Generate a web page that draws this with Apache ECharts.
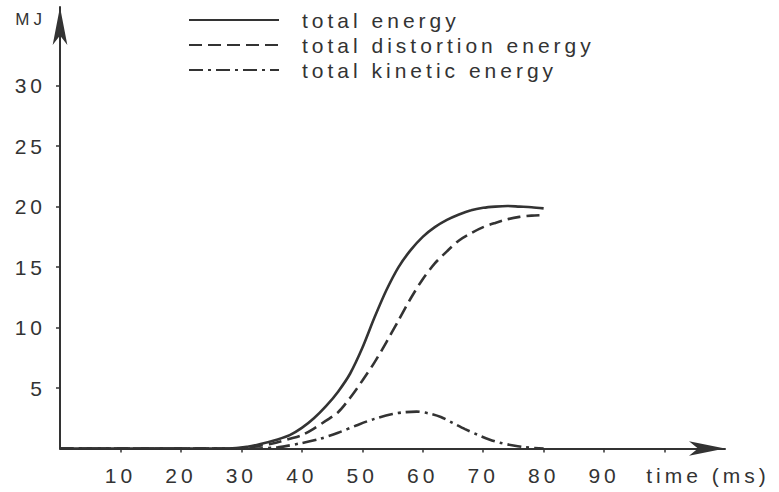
<!DOCTYPE html>
<html><head><meta charset="utf-8">
<script src="https://cdn.jsdelivr.net/npm/echarts@6/dist/echarts.min.js"></script>
<style>
html,body{margin:0;padding:0;background:#fff;}
#c{width:779px;height:492px;}
#c svg text{letter-spacing:4px;}
</style></head><body><div id="c"></div>
<script>
const seriesNames = ['total energy', 'total distortion energy', 'total kinetic energy'];
const xTickLabels = [10, 20, 30, 40, 50, 60, 70, 80, 90];
const xTickMarks = [10, 20, 30, 40, 50, 60, 70, 80, 90, 100];
const yTickLabels = [5, 10, 15, 20, 25, 30];

const totalT = [0, 28, 31, 33, 36, 38, 40, 42, 44, 46, 48, 50, 52, 54, 56, 58, 60, 62, 64, 66, 68, 70, 72, 74, 76, 78, 80];
const totalE = [0, 0, 0.15, 0.35, 0.75, 1.1, 1.7, 2.5, 3.5, 4.7, 6.2, 8.3, 10.8, 13.1, 15.0, 16.4, 17.5, 18.3, 18.9, 19.35, 19.7, 19.9, 20.0, 20.05, 20.0, 19.95, 19.85];

const distT = [0, 29, 32, 35, 38, 40, 42, 44, 46, 48, 50, 52, 54, 56, 58, 60, 62, 64, 66, 68, 70, 72, 74, 76, 78, 80];
const distE = [0, 0, 0.15, 0.4, 0.8, 1.1, 1.65, 2.3, 3.0, 4.2, 5.6, 7.1, 8.8, 10.6, 12.4, 14.0, 15.3, 16.3, 17.2, 17.8, 18.3, 18.65, 18.95, 19.15, 19.25, 19.3];

const kinT = [0, 32, 36, 40, 43, 46, 49, 52, 55, 57, 59, 61, 63, 65, 67, 69, 71, 73, 75, 77, 80];
const kinE = [0, 0, 0.1, 0.45, 0.8, 1.3, 1.9, 2.45, 2.85, 3.0, 3.05, 2.9, 2.6, 2.1, 1.6, 1.15, 0.75, 0.45, 0.25, 0.1, 0];

function pairs(t, e) { return t.map((v, i) => [v, e[i]]); }

const ink = '#333';
const font = 'Liberation Sans';

const chart = echarts.init(document.getElementById('c'), null, { renderer: 'svg' });
chart.setOption({
  animation: false,
  backgroundColor: '#fff',
  textStyle: { fontFamily: font, color: ink },
  grid: { left: 60, right: 54, top: 7, bottom: 43.5 },
  legend: {
    orient: 'vertical',
    left: 183,
    top: 4,
    itemWidth: 90,
    itemHeight: 14,
    itemGap: 3,
    itemStyle: { opacity: 0 },
    textStyle: { fontFamily: font, fontSize: 21, color: ink, lineHeight: 20, padding: [2, 0, 0, 18] },
    data: seriesNames
  },
  xAxis: {
    type: 'value', min: 0, max: 110, interval: 10,
    name: 'time (ms)', nameLocation: 'end', nameGap: -17,
    nameTextStyle: { fontFamily: font, fontSize: 21, color: ink, align: 'center', verticalAlign: 'top', padding: [16, 0, 0, 0] },
    axisLine: { lineStyle: { color: ink, width: 2 }, symbol: ['none', 'arrow'], symbolSize: [11, 36] },
    axisTick: { show: true, length: 4, customValues: xTickMarks, lineStyle: { color: ink, width: 1.5 } },
    axisLabel: { customValues: xTickLabels, margin: 16, fontSize: 21, color: ink, fontFamily: font },
    splitLine: { show: false }
  },
  yAxis: {
    type: 'value', min: 0, max: 36.5, interval: 5,
    name: 'MJ', nameLocation: 'end', nameGap: -12,
    nameTextStyle: { fontFamily: font, fontSize: 17, color: ink, align: 'right', verticalAlign: 'middle', padding: [0, 14, 0, 0] },
    axisLine: { lineStyle: { color: ink, width: 2 }, symbol: ['none', 'arrow'], symbolSize: [11, 38] },
    axisTick: { show: true, length: 4, customValues: yTickLabels, lineStyle: { color: ink, width: 1.5 } },
    axisLabel: { customValues: yTickLabels, margin: 14, fontSize: 21, color: ink, fontFamily: font },
    splitLine: { show: false }
  },
  series: [
    { name: seriesNames[0], type: 'line', data: pairs(totalT, totalE), symbol: 'none', smooth: 0.3,
      lineStyle: { color: ink, width: 2.6, type: 'solid' }, itemStyle: { color: ink } },
    { name: seriesNames[1], type: 'line', data: pairs(distT, distE), symbol: 'none', smooth: 0.3,
      lineStyle: { color: ink, width: 2.6, type: [13, 6] }, itemStyle: { color: ink } },
    { name: seriesNames[2], type: 'line', data: pairs(kinT, kinE), symbol: 'none', smooth: 0.3,
      lineStyle: { color: ink, width: 2.6, type: [14, 5, 3, 5] }, itemStyle: { color: ink } }
  ]
});
</script></body></html>
